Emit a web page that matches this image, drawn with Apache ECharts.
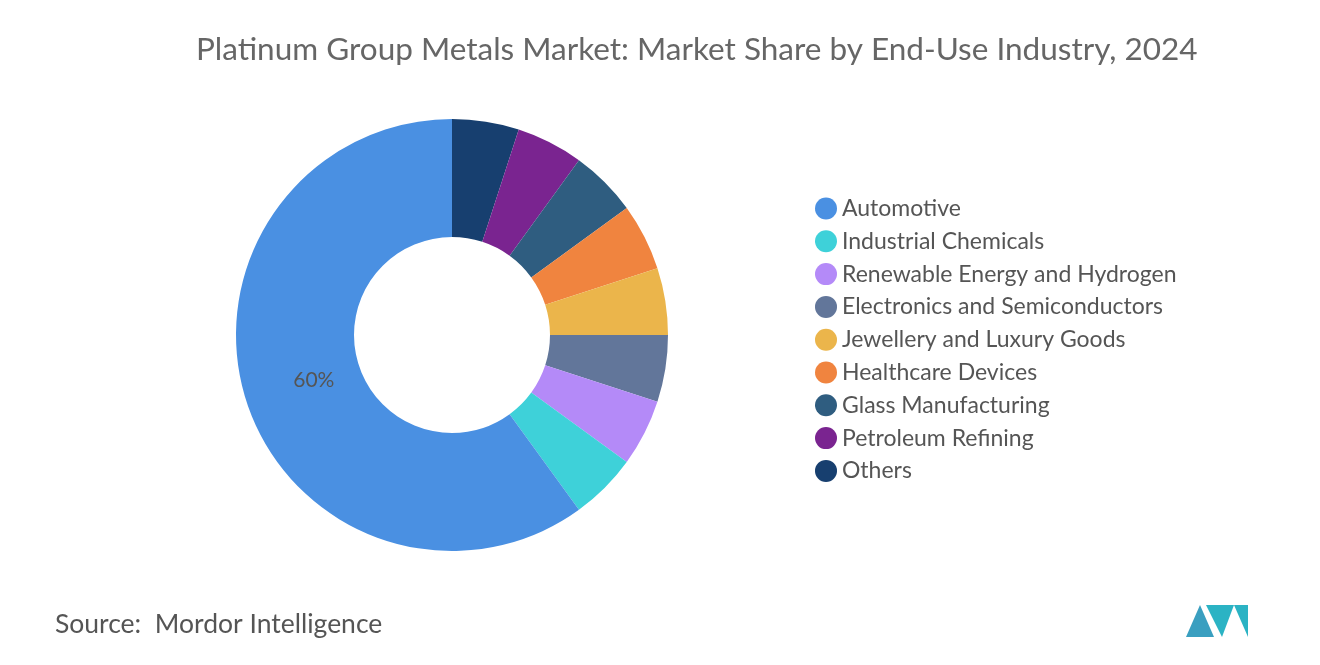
<!DOCTYPE html>
<html><head><meta charset="utf-8">
<script src="https://cdn.jsdelivr.net/npm/echarts@6/dist/echarts.min.js"></script>
<style>html,body{margin:0;padding:0;background:#fff}#c{width:1320px;height:665px}</style>
</head><body><div id="c"></div>
<script>
const legendOrder = ["Automotive","Industrial Chemicals","Renewable Energy and Hydrogen","Electronics and Semiconductors","Jewellery and Luxury Goods","Healthcare Devices","Glass Manufacturing","Petroleum Refining","Others"];
const categories = ["Others","Petroleum Refining","Glass Manufacturing","Healthcare Devices","Jewellery and Luxury Goods","Electronics and Semiconductors","Renewable Energy and Hydrogen","Industrial Chemicals","Automotive"];
const values = [5,5,5,5,5,5,5,5,60];
const colors = ["#173f6f","#7a2490","#2f5d80","#f0843f","#ebb54b","#62769a","#b48af8","#3ed1d9","#4a90e2"];
const chart = echarts.init(document.getElementById('c'));
chart.setOption({
  animation:false,
  title:{text:"Platinum Group Metals Market: Market Share by End-Use Industry, 2024",left:191,top:29,
    textStyle:{fontFamily:'Lato',fontSize:31.5,fontWeight:'normal',color:'#666'}},
  legend:{orient:'vertical',left:810,top:192,itemGap:9.8,icon:'circle',itemWidth:22,itemHeight:24,
    data:legendOrder,textStyle:{fontFamily:'Lato',fontSize:23,color:'#555'}},
  graphic:[{type:'text',left:55,top:611,style:{text:'Source:  Mordor Intelligence',font:'26.5px Lato',fill:'#555'}},
    {type:'polygon',shape:{points:[[1186,637],[1200,605],[1214,637]]},style:{fill:'#3a9fc0'}},
    {type:'polygon',shape:{points:[[1206,605],[1222,637],[1234,605],[1248,637],[1248,605]]},style:{fill:'#2bb3c4'}}],
  series:[{type:'pie',center:[452,335],radius:[98,216],startAngle:90,clockwise:true,
    data:categories.map((n,i)=>({name:n,value:values[i],itemStyle:{color:colors[i]},
      label:{show:n==='Automotive'}})),
    label:{position:'inside',formatter:'{c}%',fontFamily:'Lato',fontSize:21,color:'#555',offset:[14,-4]},
    labelLine:{show:false}}]
});
</script></body></html>
